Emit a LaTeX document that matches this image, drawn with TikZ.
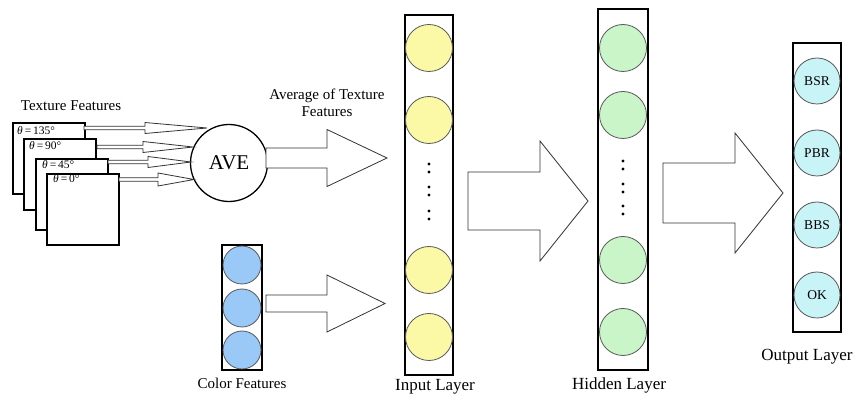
\documentclass[tikz,border=0pt]{standalone}
\usepackage{fontspec}
\setmainfont{Liberation Serif}
\begin{document}
\begin{tikzpicture}[x=1pt,y=-1pt,
  lbl/.style={inner sep=0pt,font=\fontsize{15}{17}\selectfont},
  laylbl/.style={inner sep=0pt,font=\fontsize{17}{19}\selectfont},
  frame/.style={draw,line width=1.6pt,fill=white,minimum width=72pt,minimum height=71pt,inner sep=0pt},
  theta/.style={inner sep=0pt,anchor=west,font=\fontsize{11.5}{13}\selectfont},
  layerbox/.style={draw,line width=1.4pt,inner sep=0pt},
  neuron/.style={circle,draw=black!65,line width=0.8pt,minimum size=47pt,inner sep=0pt},
  arrowline/.style={draw=black!80,line width=0.8pt,fill=white,line join=miter},
  dotmark/.style={circle,fill=black,minimum size=3.4pt,inner sep=0pt}
]
\definecolor{yel}{HTML}{FBF8A6}
\definecolor{grn}{HTML}{C9F5C9}
\definecolor{blu}{HTML}{9AC8F7}
\definecolor{cyn}{HTML}{C9F4F7}
\useasboundingbox (0,0) rectangle (860,403);
\fill[white] (0,0) rectangle (860,403);

% hollow arrow: xstart, xheadstart, xtip, ycenter, shaft half, head half
\newcommand\harrow[6]{%
  \path[arrowline] (#1,#4-#5) -- (#2,#4-#5) -- (#2,#4-#6) -- (#3,#4) -- (#2,#4+#6) -- (#2,#4+#5) -- (#1,#4+#5) -- cycle;}

% texture frames
\node[lbl] (tf) at (71,106) {Texture Features};
\node[frame,anchor=north west] (f1) at (12,122) {};
\node[theta] (t1) at ([xshift=5pt,yshift=-9pt]f1.north west) {{\itshape θ}\,=\,135°};
\node[frame,anchor=north west] (f2) at (23,138) {};
\node[theta] (t2) at ([xshift=6pt,yshift=-8pt]f2.north west) {{\itshape θ}\,=\,90°};
\node[frame,anchor=north west] (f3) at (35,158) {};
\node[theta] (t3) at ([xshift=7pt,yshift=-7pt]f3.north west) {{\itshape θ}\,=\,45°};
\node[frame,anchor=north west] (f4) at (46,173) {};
\node[theta] (t4) at ([xshift=7pt,yshift=-6pt]f4.north west) {{\itshape θ}\,=\,0°};

% AVE
\node[circle,draw,line width=1.3pt,minimum size=77pt,inner sep=0pt,font=\fontsize{21}{23}\selectfont] (ave) at (229,163) {AVE};

% small arrows frames -> AVE
\harrow{84}{145}{207}{128}{1.8}{5.5}
\harrow{97}{143}{193}{147}{1.8}{5.5}
\harrow{108}{148}{191}{162}{1.8}{5.5}
\harrow{119}{158}{194}{179.5}{1.8}{6.5}

% average label and arrow
\node[lbl,align=center] (avgl) at (327,103) {Average of Texture\\Features};
\harrow{266}{327}{387}{158}{10}{28.5}

% color features
\node[layerbox,minimum width=40pt,minimum height=125pt] (cbox) at (242,307.5) {};
\foreach \i/\y in {1/265,2/308,3/350}
  \node[neuron,fill=blu,minimum size=38pt] (c\i) at (242,\y) {};
\node[lbl] (cl) at (242,383) {Color Features};
\harrow{266}{327}{385}{303.5}{8.5}{28.5}

% input layer
\node[layerbox,minimum width=48pt,minimum height=360pt] (ibox) at (429,195) {};
\foreach \i/\y in {1/48,2/120,3/270,4/337}
  \node[neuron,fill=yel] (i\i) at (429,\y) {};
\foreach \y in {168,191,215}{
  \node[dotmark] at (429,\y-4) {};
  \node[dotmark] at (429,\y+4) {};}
\node[laylbl] (il) at (435,387) {Input Layer};

% arrow input -> hidden
\harrow{468}{540}{588}{201}{29}{60}

% hidden layer
\node[layerbox,minimum width=50pt,minimum height=361pt] (hbox) at (623,189.5) {};
\foreach \i/\y in {1/48,2/115,3/260,4/332}
  \node[neuron,fill=grn] (h\i) at (623,\y) {};
\foreach \y in {165,188,210}{
  \node[dotmark] at (623,\y-4) {};
  \node[dotmark] at (623,\y+4) {};}
\node[laylbl] (hl) at (619,385) {Hidden Layer};

% arrow hidden -> output
\harrow{663}{735}{783}{193}{30}{60}

% output layer
\node[layerbox,minimum width=48pt,minimum height=289pt] (obox) at (817,187.5) {};
\foreach \i/\y/\t in {1/81/BSR,2/153/PBR,3/225/BBS,4/295/OK}
  \node[neuron,fill=cyn,minimum size=46pt,font=\fontsize{13.5}{15}\selectfont] (o\i) at (817,\y) {\t};
\node[laylbl] (ol) at (807,357) {Output Layer};
\end{tikzpicture}
\end{document}
